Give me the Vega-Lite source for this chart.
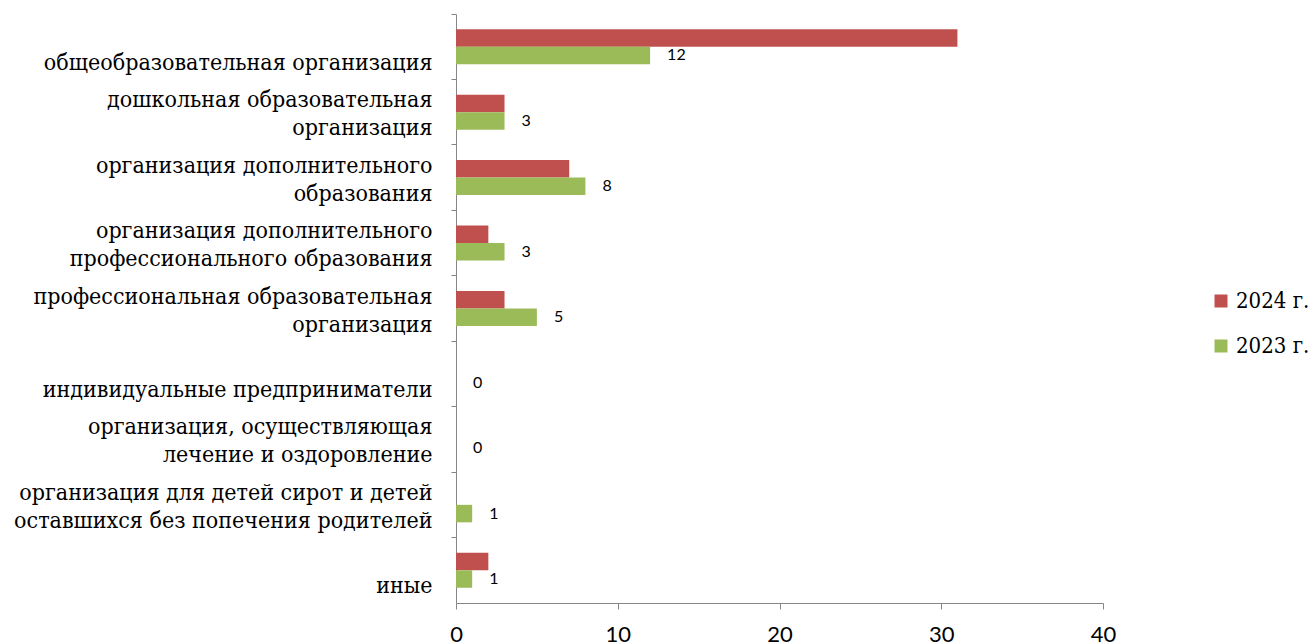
{
  "$schema": "https://vega.github.io/schema/vega-lite/v6.json",
  "width": 647,
  "height": 589,
  "autosize": "none",
  "padding": {"left": 456, "top": 14, "right": 210, "bottom": 41},
  "background": "white",
  "config": {"view": {"stroke": null}},
  "data": {
    "values": [
      {"category": "|общеобразовательная организация", "series": "2024 г.", "value": 31},
      {"category": "|общеобразовательная организация", "series": "2023 г.", "value": 12},
      {"category": "дошкольная образовательная|организация", "series": "2024 г.", "value": 3},
      {"category": "дошкольная образовательная|организация", "series": "2023 г.", "value": 3},
      {"category": "организация дополнительного|образования", "series": "2024 г.", "value": 7},
      {"category": "организация дополнительного|образования", "series": "2023 г.", "value": 8},
      {"category": "организация дополнительного   |профессионального образования", "series": "2024 г.", "value": 2},
      {"category": "организация дополнительного   |профессионального образования", "series": "2023 г.", "value": 3},
      {"category": "профессиональная образовательная|организация", "series": "2024 г.", "value": 3},
      {"category": "профессиональная образовательная|организация", "series": "2023 г.", "value": 5},
      {"category": "|индивидуальные предприниматели", "series": "2024 г.", "value": 0},
      {"category": "|индивидуальные предприниматели", "series": "2023 г.", "value": 0},
      {"category": "организация, осуществляющая|лечение и оздоровление   ", "series": "2024 г.", "value": 0},
      {"category": "организация, осуществляющая|лечение и оздоровление   ", "series": "2023 г.", "value": 0},
      {"category": "организация для детей сирот и детей |оставшихся без попечения родителей", "series": "2024 г.", "value": 0},
      {"category": "организация для детей сирот и детей |оставшихся без попечения родителей", "series": "2023 г.", "value": 1},
      {"category": "|иные  ", "series": "2024 г.", "value": 2},
      {"category": "|иные  ", "series": "2023 г.", "value": 1}
    ]
  },
  "encoding": {
    "y": {
      "field": "category",
      "type": "nominal",
      "sort": null,
      "scale": {"paddingInner": 0, "paddingOuter": 0},
      "axis": {
        "title": null,
        "bandPosition": 0,
        "domainColor": "#868686",
        "tickColor": "#868686",
        "tickSize": 5,
        "labelPadding": 19,
        "labelFont": "DejaVu Serif Condensed",
        "labelFontSize": 23,
        "labelLineHeight": 28,
        "labelColor": "black",
        "labelLimit": 0,
        "labelBaseline": "middle",
        "labelExpr": "split(datum.label, '|')",
        "labelOffset": -12
      }
    },
    "yOffset": {
      "field": "series",
      "type": "nominal",
      "sort": ["2024 г.", "2023 г."],
      "scale": {"paddingInner": 0, "paddingOuter": 0.87}
    },
    "x": {
      "field": "value",
      "type": "quantitative",
      "scale": {"domain": [0, 40], "nice": false},
      "axis": {
        "title": null,
        "values": [0, 10, 20, 30, 40],
        "grid": false,
        "domainColor": "#868686",
        "tickColor": "#868686",
        "tickSize": 6,
        "labelFont": "Lato",
        "labelFontSize": 22,
        "labelColor": "black",
        "labelPadding": 15,
        "labelFlush": false
      }
    }
  },
  "layer": [
    {
      "mark": {"type": "bar"},
      "encoding": {
        "color": {
          "field": "series",
          "type": "nominal",
          "sort": ["2024 г.", "2023 г."],
          "scale": {"domain": ["2024 г.", "2023 г."], "range": ["#C0504D", "#9BBB59"]},
          "legend": {
            "orient": "none",
            "legendX": 754,
            "legendY": 276,
            "title": null,
            "symbolType": "square",
            "symbolSize": 169,
            "symbolStrokeWidth": 0,
            "labelFont": "DejaVu Serif Condensed",
            "labelFontSize": 22,
            "labelColor": "black",
            "rowPadding": 23,
            "labelOffset": 4,
            "padding": 0
          }
        }
      }
    },
    {
      "transform": [{"filter": "datum.series == '2023 г.'"}],
      "mark": {"type": "text", "align": "left", "baseline": "middle", "dx": 17, "font": "Lato", "fontSize": 16, "color": "black"},
      "encoding": {"text": {"field": "value", "type": "quantitative"}}
    }
  ]
}
